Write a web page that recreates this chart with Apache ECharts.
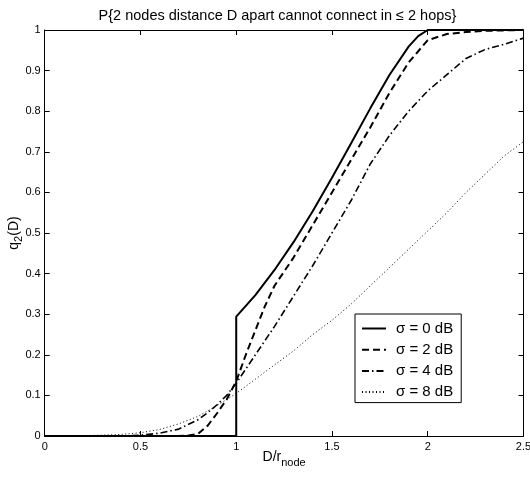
<!DOCTYPE html>
<html>
<head>
<meta charset="utf-8">
<script src="https://cdn.jsdelivr.net/npm/echarts@6/dist/echarts.min.js"></script>
<style>html,body{margin:0;padding:0;background:#fff}#c{width:530px;height:481px}</style>
</head>
<body>
<div id="c"></div>
<script>
var titleText = 'P{2 nodes distance D apart cannot connect in \u2264 2 hops}';
var seriesNames = ['\u03c3 = 0 dB', '\u03c3 = 2 dB', '\u03c3 = 4 dB', '\u03c3 = 8 dB'];
var xTicks = [0, 0.5, 1, 1.5, 2, 2.5];
var yTicks = [0, 0.1, 0.2, 0.3, 0.4, 0.5, 0.6, 0.7, 0.8, 0.9, 1];

var s0X = [0, 1, 1, 1.1, 1.2, 1.3, 1.4, 1.5, 1.6, 1.7, 1.8, 1.9, 1.95, 2.0, 2.5];
var s0Y = [0, 0, 0.294, 0.347, 0.409, 0.478, 0.554, 0.636, 0.721, 0.807, 0.889, 0.959, 0.985, 1, 1];

var s2X = [0, 0.7, 0.75, 0.8, 0.85, 0.9, 0.95, 1.0, 1.05, 1.1, 1.15, 1.2, 1.3, 1.4, 1.5, 1.6, 1.7, 1.8, 1.9, 2.0, 2.1, 2.2, 2.3, 2.5];
var s2Y = [0, 0, 0.001, 0.005, 0.025, 0.056, 0.09, 0.135, 0.2, 0.26, 0.32, 0.37, 0.44, 0.52, 0.6, 0.68, 0.76, 0.845, 0.92, 0.975, 0.99, 0.995, 0.998, 1];

var s4X = [0, 0.4, 0.5, 0.6, 0.7, 0.8, 0.85, 0.9, 0.95, 1.0, 1.1, 1.2, 1.3, 1.4, 1.5, 1.6, 1.7, 1.8, 1.9, 2.0, 2.1, 2.2, 2.3, 2.4, 2.5];
var s4Y = [0, 0, 0.002, 0.007, 0.017, 0.04, 0.057, 0.077, 0.1, 0.13, 0.2, 0.27, 0.345, 0.42, 0.5, 0.58, 0.67, 0.74, 0.80, 0.85, 0.89, 0.93, 0.952, 0.965, 0.98];

var s8X = [0, 0.1, 0.2, 0.3, 0.4, 0.5, 0.6, 0.7, 0.8, 0.9, 1.0, 1.1, 1.2, 1.3, 1.4, 1.5, 1.6, 1.7, 1.8, 1.9, 2.0, 2.1, 2.2, 2.3, 2.4, 2.5];
var s8Y = [0, 0, 0.001, 0.002, 0.004, 0.008, 0.016, 0.03, 0.048, 0.075, 0.105, 0.14, 0.175, 0.21, 0.25, 0.285, 0.325, 0.37, 0.415, 0.46, 0.505, 0.55, 0.6, 0.645, 0.69, 0.725];

function pairs(xs, ys) { return xs.map(function (x, i) { return [x, ys[i]]; }); }

var FONT = '"Liberation Sans", Arial, sans-serif';
var chart = echarts.init(document.getElementById('c'), null, {renderer: 'canvas'});

function axisCommon(extra) {
  var o = {
    axisLine: {show: true, onZero: false, lineStyle: {color: '#000', width: 1}},
    axisTick: {show: true, inside: true, length: 5, lineStyle: {color: '#000', width: 1}},
    splitLine: {show: false},
    axisLabel: {color: '#000', fontSize: 11, fontFamily: FONT}
  };
  for (var k in extra) o[k] = extra[k];
  return o;
}

var lineDefs = [
  {x: s0X, y: s0Y, style: {color: '#000', width: 2, type: 'solid'}},
  {x: s2X, y: s2Y, style: {color: '#000', width: 2, type: [7, 4]}},
  {x: s4X, y: s4Y, style: {color: '#000', width: 1.6, type: [7, 3, 1.5, 3]}},
  {x: s8X, y: s8Y, style: {color: '#000', width: 1, type: [1, 2.5]}}
];

var option = {
  animation: false,
  backgroundColor: '#fff',
  textStyle: {fontFamily: FONT},
  title: {
    text: titleText, left: 272.5, top: 3, textAlign: 'center',
    textStyle: {fontSize: 14.5, fontWeight: 'normal', color: '#000', fontFamily: FONT}
  },
  grid: {left: 44.7, top: 30, right: 6.5, bottom: 45, containLabel: false, outerBoundsMode: 'none'},
  legend: {
    show: true, orient: 'vertical', left: 355, top: 314,
    data: seriesNames,
    itemWidth: 24, itemHeight: 14, itemGap: 6.2,
    padding: [7, 8, 3, 6],
    borderColor: '#000', borderWidth: 1, backgroundColor: '#fff',
    itemStyle: {opacity: 0},
    textStyle: {fontSize: 15, lineHeight: 14, color: '#000', fontFamily: FONT, padding: [0, 0, 0, 5]},
    selectedMode: false
  },
  xAxis: [
    axisCommon({type: 'value', min: 0, max: 2.5, interval: 0.5, position: 'bottom',
      name: 'D/r{sub|node}', nameLocation: 'middle', nameGap: 11, nameMoveOverlap: false,
      nameTextStyle: {fontSize: 14, color: '#000', fontFamily: FONT, verticalAlign: 'top',
        rich: {sub: {fontSize: 11, verticalAlign: 'bottom', padding: [10, 0, 0, 0], fontFamily: FONT, color: '#000'}}},
      axisLabel: {color: '#000', fontSize: 11, fontFamily: FONT, margin: 5,
        formatter: function (v) { return xTicks.indexOf(v) >= 0 ? String(v) : ''; }}}),
    axisCommon({type: 'value', min: 0, max: 2.5, interval: 0.5, position: 'top',
      axisLabel: {show: false}})
  ],
  yAxis: [
    axisCommon({type: 'value', min: 0, max: 1, interval: 0.1, position: 'left',
      name: 'q{sub|2}(D)', nameLocation: 'middle', nameGap: 20, nameRotate: 90, nameMoveOverlap: false,
      nameTextStyle: {fontSize: 14, color: '#000', fontFamily: FONT,
        rich: {sub: {fontSize: 11, padding: [10, 0, 0, 0], fontFamily: FONT, color: '#000'}}},
      axisLabel: {color: '#000', fontSize: 11, fontFamily: FONT, margin: 4,
        formatter: function (v) { var r = Math.round(v * 10) / 10; return yTicks.indexOf(r) >= 0 ? String(r) : ''; }}}),
    axisCommon({type: 'value', min: 0, max: 1, interval: 0.1, position: 'right',
      axisLabel: {show: false}})
  ],
  series: lineDefs.map(function (d, i) {
    return {
      name: seriesNames[i], type: 'line', xAxisIndex: 0, yAxisIndex: 0,
      data: pairs(d.x, d.y), showSymbol: false, symbol: 'none', smooth: false,
      lineStyle: d.style, itemStyle: {color: '#000'}, z: 10 - i
    };
  })
};
chart.setOption(option);
</script>
</body>
</html>
